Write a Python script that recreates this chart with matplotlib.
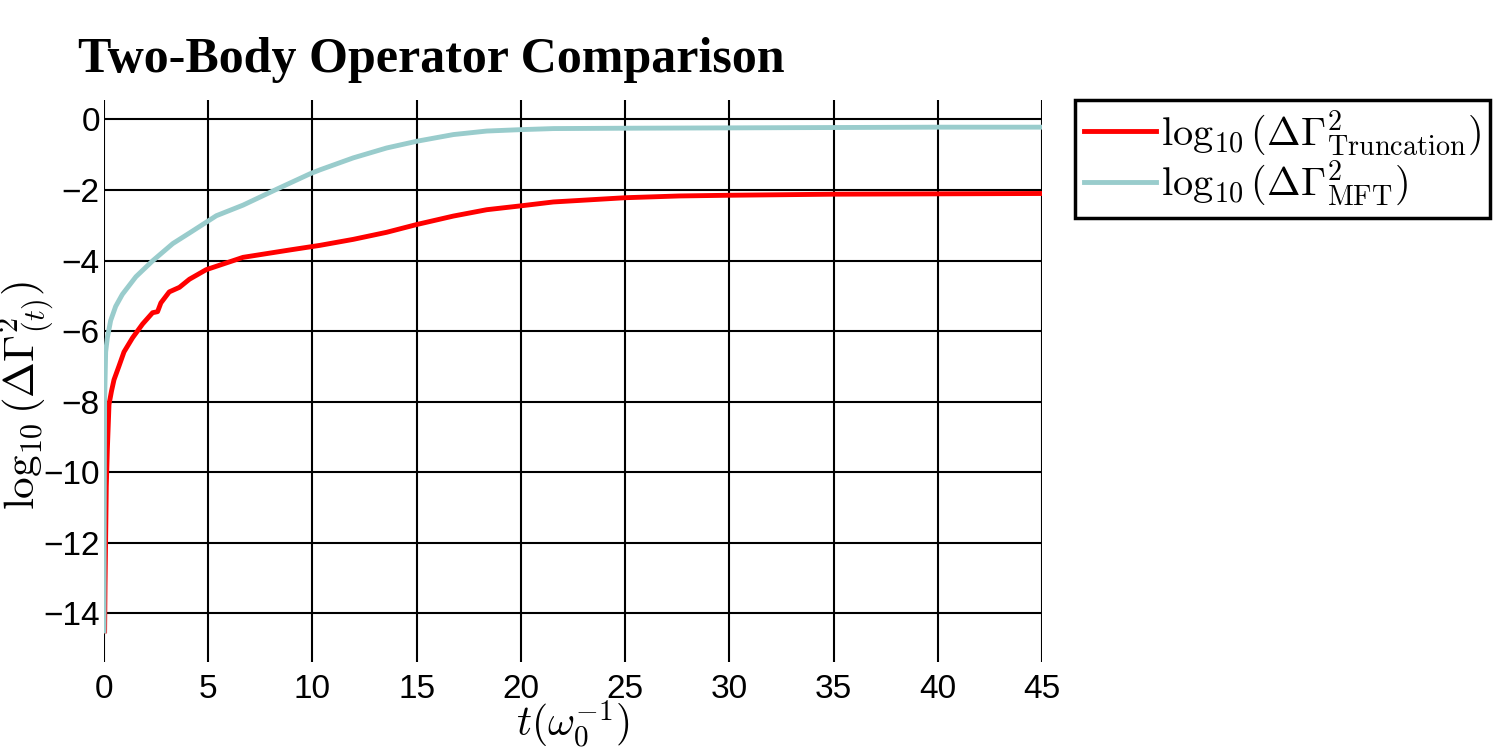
import matplotlib
matplotlib.use("Agg")
import matplotlib.pyplot as plt

plt.rcParams['mathtext.fontset'] = 'cm'
plt.rcParams['font.family'] = ['Liberation Sans', 'DejaVu Sans']

# Data
t_trunc = [0.03, 0.05, 0.08, 0.11, 0.16, 0.24, 0.36, 0.48, 0.72, 0.96, 1.37, 1.85, 2.33, 2.57,
           2.73, 3.13, 3.62, 4.10, 4.90, 6.67, 8.92, 10.36, 11.96, 13.56, 15.0, 16.76,
           18.36, 20.0, 21.56, 25.0, 27.6, 30.0, 35.0, 40.0, 45.0]
v_trunc = [-14.5, -13.2, -11.8, -10.4, -9.37, -8.08, -7.70, -7.38, -6.99, -6.59, -6.19, -5.80,
           -5.48, -5.45, -5.20, -4.89, -4.76, -4.53, -4.26, -3.91, -3.70, -3.57, -3.40,
           -3.20, -2.98, -2.74, -2.56, -2.45, -2.34, -2.22, -2.17, -2.15, -2.12, -2.11, -2.10]

t_mft = [0.0, 0.01, 0.03, 0.08, 0.16, 0.32, 0.56, 0.88, 1.53, 2.33, 3.30, 4.10, 5.39,
         6.67, 8.28, 9.89, 10.36, 11.96, 13.56, 15.0, 16.76, 18.36, 20.0, 21.56, 25.0,
         30.0, 35.0, 40.0, 45.0]
v_mft = [-14.5, -11.35, -7.98, -6.59, -6.19, -5.70, -5.30, -4.96, -4.46, -4.01, -3.52,
         -3.22, -2.73, -2.43, -1.98, -1.54, -1.43, -1.09, -0.81, -0.62, -0.43, -0.33,
         -0.29, -0.26, -0.25, -0.24, -0.23, -0.22, -0.22]

x_ticks = [0, 5, 10, 15, 20, 25, 30, 35, 40, 45]
y_ticks = [0, -2, -4, -6, -8, -10, -12, -14]

label_trunc = r'$\log_{10}(\Delta\Gamma^2_{\mathrm{Truncation}})$'
label_mft = r'$\log_{10}(\Delta\Gamma^2_{\mathrm{MFT}})$'

fig = plt.figure(figsize=(15, 7.5), dpi=100)
ax = fig.add_axes([104/1500, 1-662/750, (1042-104)/1500, (662-100)/750])

ax.plot(t_trunc, v_trunc, color='#ff0000', lw=3.5, label=label_trunc)
ax.plot(t_mft, v_mft, color='#99cccc', lw=3.5, label=label_mft)

ax.set_xlim(0, 45)
ax.set_ylim(-15.38, 0.55)
ax.set_xticks(x_ticks)
ax.set_yticks(y_ticks)
ax.grid(True, color='black', lw=1.5)
for s in ax.spines.values():
    s.set_visible(False)
ax.tick_params(length=0, labelsize=24)
ax.tick_params(axis='y', pad=3)
ax.tick_params(axis='x', pad=9)

ax.set_xlabel(r'$t(\omega_0^{-1})$', fontsize=30, labelpad=-5)
ax.set_ylabel(r'$\log_{10}(\mathbf{\Delta\Gamma}^2_{(t)})$', fontsize=31)
ax.yaxis.set_label_coords(-0.049, 0.475)

leg = ax.legend(loc='upper left', bbox_to_anchor=(1.035, 1.0), borderaxespad=0,
                fontsize=29, fancybox=False, framealpha=1, edgecolor='black',
                handlelength=1.8, handletextpad=0.12, borderpad=0.22, labelspacing=0.0)
leg.get_frame().set_linewidth(2.5)

fig.text(78/1500, 1-72/750, 'Two-Body Operator Comparison', fontsize=36,
         fontweight='bold', family='Liberation Serif', va='baseline', ha='left')

fig.savefig('out.png', dpi=100)
